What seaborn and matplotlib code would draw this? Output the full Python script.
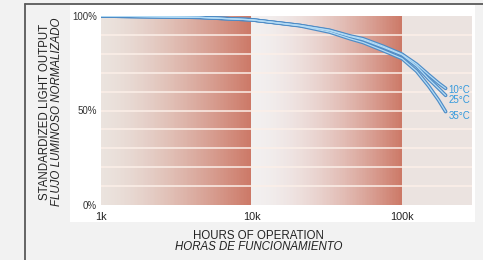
import numpy as np
import pandas as pd
import matplotlib.pyplot as plt
import seaborn as sns
from matplotlib.patches import Rectangle
from matplotlib.lines import Line2D

# datos de las curvas (horas vs salida de luz %)
hours = [1000, 4500, 10000, 21000, 33000, 45000, 55000, 75000,
         100000, 125000, 150000, 175000, 195000]
out_10c = [100, 99.3, 98, 95, 92.5, 89.5, 88, 84, 79.8, 74.5, 69, 64.5, 61.7]
out_25c = [100, 99.3, 98, 95, 92.3, 89.2, 87.5, 83.5, 79.5, 73.5, 66.8, 61.7, 58]
out_35c = [100, 99.3, 98, 94.8, 91.5, 88, 86, 81.7, 77.5, 70.8, 63, 55.5, 49.4]
temps = ['10°C', '25°C', '35°C']
x_ticks = [1000, 10000, 100000]
x_ticklabels = ['1k', '10k', '100k']
y_ticks = [0, 50, 100]
y_ticklabels = ['0%', '50%', '100%']

df = pd.DataFrame({
    'hours': hours * 3,
    'output': out_10c + out_25c + out_35c,
    'temp': [t for t in temps for _ in hours],
})

sns.set_theme(style='white')
plt.rcParams['font.family'] = ['Liberation Sans', 'DejaVu Sans']

W, H = 483, 260
fig = plt.figure(figsize=(W / 100, H / 100), dpi=100, facecolor='#f2f2f2')

# panel blanco y borde
fig.patches.append(Rectangle((70 / W, 1 - 222 / H), 405 / W, 217 / H,
                             transform=fig.transFigure, facecolor='white',
                             edgecolor='none', zorder=-5))
fig.lines.append(Line2D([25 / W, 1], [1 - 4 / H, 1 - 4 / H], transform=fig.transFigure,
                        color='#5a5a5a', lw=1.3))
fig.lines.append(Line2D([25 / W, 25 / W], [0, 1 - 4 / H], transform=fig.transFigure,
                        color='#5a5a5a', lw=1.3))

ax = fig.add_axes([101 / W, 1 - 205 / H, 371 / W, 189 / H])
ax.set_xscale('log')
xmax = 10 ** (3 + 371 / 150.5)
ax.set_xlim(1000, xmax)
ax.set_ylim(0, 100)
ax.patch.set_alpha(0)

# fondo degradado por decada
light = np.array([0.92, 0.89, 0.87])
dark = np.array([0.80, 0.47, 0.40])
light2 = np.array([0.95, 0.94, 0.94])
tail = np.array([0.92, 0.89, 0.88])
edges = np.logspace(3, np.log10(xmax), 260)
for a, b in zip(edges[:-1], edges[1:]):
    lx = np.log10((a * b) ** 0.5)
    if lx < 4:
        f = lx - 3
        c = light + (dark - light) * f ** 1.4
    elif lx < 5:
        f = lx - 4
        c = light2 + (dark - light2) * f ** 1.7
    else:
        c = tail
    ax.axvspan(a, b, color=c, lw=0, zorder=0)
for yl in range(10, 100, 10):
    ax.axhline(yl, color='#fcefe8', lw=1.1, zorder=1)

sns.lineplot(data=df, x='hours', y='output', hue='temp', estimator=None,
             palette=['#4f8cc6'] * 3, lw=2.6, legend=False, ax=ax, zorder=3)
sns.lineplot(data=df, x='hours', y='output', hue='temp', estimator=None,
             palette=['#b3dbf5'] * 3, lw=0.9, legend=False, ax=ax, zorder=4)

label_y = [out_10c[-1] - 1.0, out_25c[-1] - 2.2, out_35c[-1] - 2.5]
for t, yv in zip(temps, label_y):
    ax.text(hours[-1] * 1.045, yv, t, color='#3399dd', fontsize=7,
            va='center', ha='left', zorder=5)

ax.set_xticks(x_ticks)
ax.set_xticklabels(x_ticklabels, fontsize=7.8, color='#222222')
ax.set_yticks(y_ticks)
ax.set_yticklabels(y_ticklabels, fontsize=7, color='#333333')
ax.minorticks_off()
ax.tick_params(axis='x', length=0, pad=5)
ax.tick_params(axis='y', length=0, pad=3)
ax.set_xlabel('')
ax.set_ylabel('')
for s in ax.spines.values():
    s.set_visible(False)

fig.text(45 / W, 1 - 112 / H, 'STANDARDIZED LIGHT OUTPUT', rotation=90,
         ha='center', va='center', fontsize=8.3, color='#222222')
fig.text(57.5 / W, 1 - 112 / H, 'FLUJO LUMINOSO NORMALIZADO', rotation=90,
         ha='center', va='center', fontsize=8.3, style='italic', color='#222222')
fig.text(258 / W, 1 - 236 / H, 'HOURS OF OPERATION', ha='center', va='center',
         fontsize=8.3, color='#222222')
fig.text(259 / W, 1 - 247.5 / H, 'HORAS DE FUNCIONAMIENTO', ha='center', va='center',
         fontsize=8.3, style='italic', color='#222222')

fig.savefig('out.png', dpi=100, facecolor=fig.get_facecolor())
